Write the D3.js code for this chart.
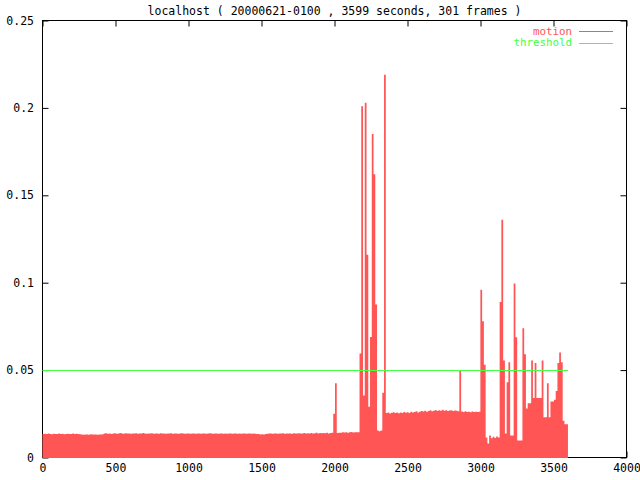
<!DOCTYPE html>
<html><head><meta charset="utf-8">
<script src="https://cdn.jsdelivr.net/npm/d3@7"></script>
<style>
body{margin:0;background:#fff}
svg text{font-family:"DejaVu Sans Mono",monospace;font-size:11.5px}
</style>
</head><body>
<svg id="chart" width="640" height="480"></svg>
<script>
const title = "localhost ( 20000621-0100 , 3599 seconds, 301 frames )";
const duration = 3599;
const frameCount = 301;
const threshold = 0.05;
const seriesNames = ["motion", "threshold"];
const seriesColors = ["#ff5555", "#44ff44"];
const xTicks = [0, 500, 1000, 1500, 2000, 2500, 3000, 3500, 4000];
const yTicks = [0, 0.05, 0.1, 0.15, 0.2, 0.25];
const yTickLabels = ["0", "0.05", "0.1", "0.15", "0.2", "0.25"];

// motion value per frame (301 frames)
const motion = [
0.0135,0.0136,0.0134,0.0137,0.0135,0.0133,0.0136,0.0134,0.0135,0.0137,
0.0134,0.0136,0.0133,0.0135,0.0136,0.0134,0.0135,0.0138,0.0134,0.0136,
0.0135,0.0133,0.0131,0.0130,0.0132,0.0131,0.0130,0.0133,0.0131,0.0132,
0.0131,0.0130,0.0132,0.0131,0.0133,0.0137,0.0139,0.0136,0.0138,0.0135,
0.0137,0.0139,0.0136,0.0138,0.0140,0.0137,0.0136,0.0139,0.0137,0.0138,
0.0136,0.0138,0.0137,0.0139,0.0136,0.0137,0.0138,0.0140,0.0137,0.0136,
0.0138,0.0137,0.0139,0.0136,0.0138,0.0137,0.0136,0.0139,0.0138,0.0137,
0.0136,0.0138,0.0137,0.0139,0.0136,0.0137,0.0138,0.0136,0.0137,0.0139,
0.0137,0.0136,0.0138,0.0137,0.0136,0.0138,0.0137,0.0136,0.0137,0.0138,
0.0136,0.0137,0.0138,0.0136,0.0137,0.0139,0.0137,0.0136,0.0138,0.0137,
0.0136,0.0137,0.0138,0.0136,0.0137,0.0136,0.0138,0.0137,0.0136,0.0137,
0.0138,0.0136,0.0137,0.0136,0.0138,0.0137,0.0136,0.0137,0.0138,0.0136,
0.0137,0.0136,0.0135,0.0134,0.0132,0.0133,0.0132,0.0134,0.0136,0.0138,
0.0137,0.0136,0.0138,0.0137,0.0136,0.0138,0.0137,0.0139,0.0136,0.0138,
0.0137,0.0138,0.0136,0.0139,0.0137,0.0138,0.0139,0.0137,0.0138,0.0140,
0.0138,0.0139,0.0137,0.0140,0.0138,0.0139,0.0141,0.0138,0.0140,0.0139,
0.0140,0.0139,0.0141,0.0138,0.0140,0.0141,0.0250,0.0425,0.0140,0.0141,
0.0142,0.0144,0.0143,0.0145,0.0142,0.0144,0.0146,0.0143,0.0145,0.0144,
0.0145,0.0595,0.2010,0.0355,0.2030,0.1160,0.0290,0.0690,0.1850,0.1620,
0.0875,0.0155,0.0150,0.0155,0.0370,0.2190,0.0255,0.0258,0.0252,0.0256,
0.0259,0.0254,0.0257,0.0253,0.0258,0.0255,0.0260,0.0256,0.0259,0.0255,
0.0262,0.0257,0.0260,0.0264,0.0258,0.0262,0.0266,0.0263,0.0268,0.0262,
0.0266,0.0270,0.0265,0.0268,0.0272,0.0266,0.0270,0.0268,0.0273,0.0267,
0.0270,0.0266,0.0269,0.0271,0.0266,0.0269,0.0267,0.0265,0.0500,0.0263,
0.0261,0.0264,0.0260,0.0262,0.0259,0.0263,0.0260,0.0262,0.0261,0.0262,
0.0960,0.0780,0.0530,0.0114,0.0080,0.0126,0.0110,0.0118,0.0112,0.0120,
0.0114,0.0890,0.1360,0.0555,0.0137,0.0430,0.0545,0.0126,0.0126,0.0995,
0.0688,0.0097,0.0097,0.0097,0.0740,0.0590,0.0280,0.0310,0.0310,0.0555,
0.0340,0.0540,0.0340,0.0340,0.0340,0.0555,0.0230,0.0230,0.0425,0.0230,
0.0320,0.0320,0.0330,0.0380,0.0540,0.0600,0.0545,0.0210,0.0190,0.0190,
0.0200
];

const svg = d3.select("#chart");
const L = 42.5, R = 626.5, T = 20.5, B = 457.5;
const x = d3.scaleLinear().domain([0, 4000]).range([L, R]);
const y = d3.scaleLinear().domain([0, 0.25]).range([B, T]);
const step = duration / (frameCount - 1);
const frames = motion.map((v, i) => ({t: i * step, v}));

// title
svg.append("text").attr("x", (L + R) / 2).attr("y", 11).attr("dy", "0.35em")
  .attr("text-anchor", "middle").attr("fill", "#000").text(title);

// axes (inward ticks, mirrored)
const tickLen = 6;
const gB = svg.append("g").attr("transform", `translate(0,${B})`)
  .call(d3.axisBottom(x).tickValues(xTicks).tickFormat(d3.format("d")).tickSize(-tickLen).tickSizeOuter(0).tickPadding(6.5));
const gT = svg.append("g").attr("transform", `translate(0,${T})`)
  .call(d3.axisTop(x).tickValues(xTicks).tickFormat("").tickSize(-tickLen).tickSizeOuter(0));
const gL = svg.append("g").attr("transform", `translate(${L},0)`)
  .call(d3.axisLeft(y).tickValues(yTicks).tickFormat((d, i) => yTickLabels[i]).tickSize(-tickLen).tickSizeOuter(0).tickPadding(8.5));
const gR = svg.append("g").attr("transform", `translate(${R},0)`)
  .call(d3.axisRight(y).tickValues(yTicks).tickFormat("").tickSize(-tickLen).tickSizeOuter(0));
[gB, gT, gL, gR].forEach(g => {
  g.select(".domain").remove();
  g.selectAll("line").attr("stroke", "#000");
  g.selectAll("text").attr("fill", "#000").style("font-family", "DejaVu Sans Mono, monospace").style("font-size", "11.5px");
});
svg.append("rect").attr("x", L).attr("y", T).attr("width", R - L).attr("height", B - T)
  .attr("fill", "none").attr("stroke", "#000").attr("stroke-width", 1);

// motion area (step)
const endPoint = {t: duration, v: motion[motion.length - 1]};
const area = d3.area().curve(d3.curveStepAfter)
  .x(d => x(d.t)).y0(y(0) + 0.5).y1(d => y(d.v));
svg.append("path").datum(frames.concat([endPoint])).attr("d", area)
  .attr("fill", seriesColors[0]).attr("stroke", "none");

// threshold line
svg.append("line").attr("x1", x(0)).attr("x2", x(duration))
  .attr("y1", Math.round(y(threshold)) + 0.5).attr("y2", Math.round(y(threshold)) + 0.5)
  .attr("stroke", seriesColors[1]).attr("stroke-width", 1);

// legend
const legend = svg.append("g");
seriesNames.forEach((name, i) => {
  const ly = 31 + i * 11.5;
  legend.append("text").attr("x", 572).attr("y", ly).attr("dy", "0.35em")
    .attr("text-anchor", "end").attr("fill", seriesColors[i])
    .style("font-size", "10.8px").text(name);
  legend.append("line").attr("x1", 579).attr("x2", 613).attr("y1", Math.round(ly) + 0.5).attr("y2", Math.round(ly) + 0.5)
    .attr("stroke", seriesColors[i]).attr("stroke-width", 1);
});
</script>
</body></html>
